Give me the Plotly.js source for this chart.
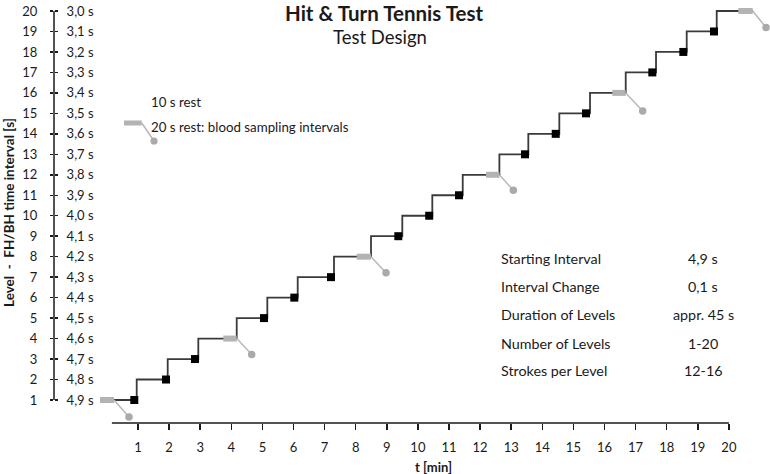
<!DOCTYPE html>
<html><head><meta charset="utf-8">
<script src="https://cdn.plot.ly/plotly-3.0.1.min.js"></script>
<style>html,body{margin:0;padding:0;background:#fff}#chart{width:770px;height:474px}</style>
</head><body><div id="chart"></div>
<script>
// ---- data ----
const levels = [1,2,3,4,5,6,7,8,9,10,11,12,13,14,15,16,17,18,19,20];
const intervalLabels = ["4,9 s","4,8 s","4,7 s","4,6 s","4,5 s","4,4 s","4,3 s","4,2 s","4,1 s","4,0 s",
                        "3,9 s","3,8 s","3,7 s","3,6 s","3,5 s","3,4 s","3,3 s","3,2 s","3,1 s","3,0 s"];
const minuteTicks = [1,2,3,4,5,6,7,8,9,10,11,12,13,14,15,16,17,18,19,20];
const testStart = -0.222;   // start of level 1 (min)
const testEnd = 20.765;     // end of level 20 (min)
// time at which level i steps up to level i+1 (levels 1..19)
const riserTimes = [0.958,1.955,2.939,4.174,5.158,6.135,7.302,8.492,9.498,10.463,
                    11.441,12.62,13.55,14.547,15.534,16.682,17.656,18.643,19.608];
// 10 s rest (black squares)
const squareLevels = [1,2,3,5,6,7,9,10,11,13,14,15,17,18,19];
const squareTimes  = [0.881,1.900,2.833,5.051,6.026,7.206,9.370,10.363,11.322,13.444,14.431,15.405,17.537,18.534,19.521];
// 20 s rest: blood sampling intervals (grey bars)
const restLevels = [1,4,8,12,16,20];
const restStart  = [-0.222,3.743,8.032,12.19,16.251,20.302];
const restEnd    = [0.228,4.174,8.492,12.62,16.682,20.765];
// blood sample markers (grey circles)
const sampleTimes  = [0.711,4.656,8.974,13.068,17.228,21.193];
const sampleLevels = [0.17,3.22,7.21,11.24,15.12,19.19];

const tableLabels = ["Starting Interval","Interval Change","Duration of Levels","Number of Levels","Strokes per Level"];
const tableValues = ["4,9 s","0,1 s","appr. 45 s","1-20","12-16"];

// ---- build traces ----
const stairX = [testStart], stairY = [levels[0]];
for (let i = 0; i < riserTimes.length; i++) {
  stairX.push(riserTimes[i], riserTimes[i]);
  stairY.push(levels[i], levels[i+1]);
}
stairX.push(testEnd); stairY.push(levels[levels.length-1]);

const barX = [], barY = [], diagX = [], diagY = [];
for (let i = 0; i < restLevels.length; i++) {
  barX.push(restStart[i], restEnd[i], null); barY.push(restLevels[i], restLevels[i], null);
  diagX.push(restEnd[i], sampleTimes[i], null); diagY.push(restLevels[i], sampleLevels[i], null);
}

const FONT = "Lato, 'Open Sans', sans-serif";
const traces = [
  {x: stairX, y: stairY, mode: 'lines', line: {color: '#3a3a3a', width: 1.8}, hoverinfo: 'skip', cliponaxis: false},
  {x: diagX, y: diagY, mode: 'lines', line: {color: '#b8b8b8', width: 1.5}, hoverinfo: 'skip', cliponaxis: false},
  {x: barX, y: barY, mode: 'lines', line: {color: '#b3b3b3', width: 6}, hoverinfo: 'skip', cliponaxis: false},
  {x: squareTimes, y: squareLevels, mode: 'markers', marker: {symbol: 'square', size: 8, color: '#000'}, cliponaxis: false},
  {x: sampleTimes, y: sampleLevels, mode: 'markers', marker: {symbol: 'circle', size: 7.5, color: '#aaaaaa'}, cliponaxis: false},
  {x: [minuteTicks[0]], y: [levels[0]], yaxis: 'y2', mode: 'markers', marker: {opacity: 0}, hoverinfo: 'skip'}
];

const yRange = [-0.124, 20.293];
const tickFont = {family: FONT, size: 13, color: '#1a1a1a'};

const annotations = [
  {text: '<b>Hit &amp; Turn Tennis Test</b>', xref: 'paper', yref: 'paper', x: 0.4609, y: 1.0115, showarrow: false,
   xanchor: 'center', yanchor: 'top', borderpad: 0, font: {family: FONT, size: 20.5, color: '#1a1a1a'}},
  {text: 'Test Design', xref: 'paper', yref: 'paper', x: 0.4555, y: 0.9234, showarrow: false,
   xanchor: 'center', yanchor: 'middle', font: {family: FONT, size: 18.5, color: '#1a1a1a'}},
  {text: '<b>Level\u00a0\u00a0-\u00a0\u00a0FH/BH time interval [s]</b>', xref: 'paper', yref: 'paper', x: -0.0628, y: 0.5024,
   textangle: -90, showarrow: false, xanchor: 'center', yanchor: 'middle', font: {family: FONT, size: 13.5, color: '#1a1a1a'}},
  {text: '<b>t [min]</b>', xref: 'paper', yref: 'paper', x: 0.5307, y: -0.1053, showarrow: false,
   xanchor: 'center', yanchor: 'middle', font: {family: FONT, size: 13, color: '#1a1a1a'}},
  {text: '10 s rest', xref: 'paper', yref: 'paper', x: 0.1323, y: 0.769, showarrow: false,
   xanchor: 'left', yanchor: 'middle', font: {family: FONT, size: 13.3, color: '#1a1a1a'}},
  {text: '20 s rest: blood sampling intervals', xref: 'paper', yref: 'paper', x: 0.1323, y: 0.708, showarrow: false,
   xanchor: 'left', yanchor: 'middle', font: {family: FONT, size: 13.3, color: '#1a1a1a'}}
];
const rowY = [0.3935, 0.3266, 0.2589, 0.1909, 0.1256];
tableLabels.forEach((t, i) => {
  annotations.push({text: t, xref: 'paper', yref: 'paper', x: 0.6211, y: rowY[i], showarrow: false,
    xanchor: 'left', yanchor: 'middle', font: {family: FONT, size: 14.3, color: '#1a1a1a'}});
  annotations.push({text: tableValues[i], xref: 'paper', yref: 'paper', x: 0.907, y: rowY[i], showarrow: false,
    xanchor: 'center', yanchor: 'middle', font: {family: FONT, size: 14.3, color: '#1a1a1a'}});
});

const shapes = [
  // x axis line (from just before minute 1 to minute 20)
  {type: 'line', xref: 'x', yref: 'paper', x0: 0.16, x1: minuteTicks[minuteTicks.length-1], y0: 0, y1: 0,
   line: {color: '#1a1a1a', width: 1.5}},
  // y axis line (level 1 to level 20)
  {type: 'line', xref: 'paper', yref: 'y', x0: 0, x1: 0, y0: levels[0], y1: levels[levels.length-1],
   line: {color: '#1a1a1a', width: 1.5}},
  // legend symbol
  {type: 'line', xref: 'paper', yref: 'paper', x0: 0.1225, y0: 0.7177, x1: 0.1397, y1: 0.6746,
   line: {color: '#b8b8b8', width: 1.5}},
  {type: 'rect', xref: 'paper', yref: 'paper', x0: 0.0978, x1: 0.1225, y0: 0.7117, y1: 0.7237,
   fillcolor: '#b3b3b3', line: {width: 0}},
  {type: 'circle', xref: 'paper', yref: 'paper', xsizemode: 'pixel', ysizemode: 'pixel',
   xanchor: 0.1397, yanchor: 0.6746, x0: -3.6, x1: 3.6, y0: -3.6, y1: 3.6, fillcolor: '#aaaaaa', line: {width: 0}}
];

const layout = {
  width: 770, height: 474,
  margin: {l: 54, r: 0, t: 5, b: 51, pad: 0},
  paper_bgcolor: '#fff', plot_bgcolor: '#fff',
  showlegend: false,
  font: {family: FONT, color: '#1a1a1a'},
  xaxis: {range: [-1.701, 21.321], tickvals: minuteTicks, ticktext: minuteTicks.map(String),
          ticks: 'outside', ticklen: 6, tickwidth: 1.5, tickcolor: '#1a1a1a', ticklabelstandoff: 6,
          showline: false, showgrid: false, zeroline: false, tickfont: tickFont, fixedrange: true},
  yaxis: {range: yRange, tickvals: levels, ticktext: levels.map(String),
          ticks: 'outside', ticklen: 3, tickwidth: 1.5, tickcolor: '#1a1a1a', ticklabelstandoff: 10,
          showline: false, showgrid: false, zeroline: false, tickfont: tickFont, fixedrange: true},
  yaxis2: {range: yRange, overlaying: 'y', anchor: 'free', position: 0, side: 'right',
           tickvals: levels, ticktext: intervalLabels,
           ticks: 'outside', ticklen: 3, tickwidth: 1.5, tickcolor: '#1a1a1a', ticklabelstandoff: 6,
           showline: false, showgrid: false, zeroline: false, tickfont: tickFont, fixedrange: true},
  annotations: annotations,
  shapes: shapes
};

Plotly.newPlot('chart', traces, layout, {displayModeBar: false, staticPlot: true});
</script>
</body></html>
